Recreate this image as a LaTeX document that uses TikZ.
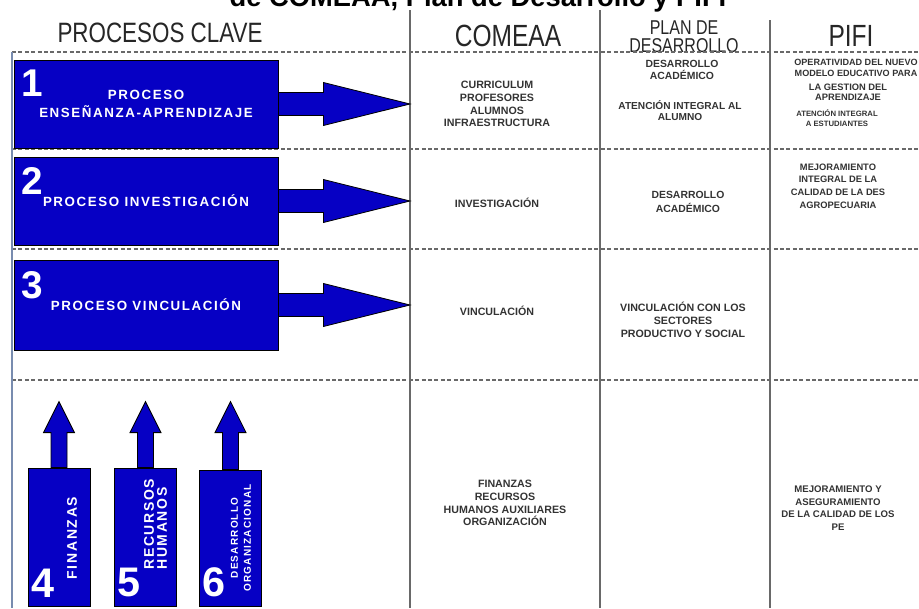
\documentclass[tikz,border=0pt]{standalone}
\usepackage{fontspec}
\setmainfont{Liberation Sans}
\newfontfamily\angosta[FakeStretch=0.8]{Liberation Sans}
\newfontfamily\espaciada[LetterSpace=12]{Liberation Sans}
\usetikzlibrary{calc,positioning}
\definecolor{azulproc}{RGB}{6,0,196}
\definecolor{lineagris}{RGB}{105,105,105}
\definecolor{bordeazul}{RGB}{120,140,175}

\begin{document}
\begin{tikzpicture}[x=0.75pt,y=-0.75pt,
  proc/.style={draw=black, line width=0.6pt, fill=azulproc, inner sep=0pt,
               text=white, align=center,
               font=\espaciada\fontsize{10}{13.5}\selectfont\bfseries},
  flecha/.style={draw=black, line width=0.6pt, fill=azulproc},
  num/.style={text=white, inner sep=0pt, font=\fontsize{29}{29}\selectfont\bfseries},
  numb/.style={num, font=\fontsize{31}{31}\selectfont\bfseries},
  rot/.style={rotate=90, text=white, inner sep=0pt, align=left},
  cab/.style={inner sep=0pt, text=black!85, font=\angosta\fontsize{21}{21}\selectfont},
  col/.style={inner sep=0pt, align=center, text=black!80,
              font=\fontsize{8}{9.5}\selectfont\bfseries},
  pifi/.style={col, font=\fontsize{7}{9.5}\selectfont\bfseries},
  punteada/.style={draw=lineagris, line width=1pt, dash pattern=on 3pt off 1.8pt},
  columna/.style={draw=lineagris, line width=1.2pt}]

  \useasboundingbox (0,0) rectangle (919,608);
  \clip (0,0) rectangle (919,608);

  % Title (cut off at the top)
  \node[anchor=base, inner sep=0pt, font=\fontsize{20.5}{22}\selectfont\bfseries]
    (tit) at (478,6) {de COMEAA, Plan de Desarrollo y PIFI};

  % Headers
  \node[cab] (hproc) at (160,33) {PROCESOS CLAVE};
  \node[cab, font=\angosta\fontsize{23}{23}\selectfont] (hcom) at (508,36) {COMEAA};
  \node[cab, align=center, font=\angosta\fontsize{15}{13.5}\selectfont]
    (hplan) at (684,37) {PLAN DE\\DESARROLLO};
  \node[cab, font=\angosta\fontsize{23}{23}\selectfont] (hpifi) at (851,36) {PIFI};

  % Grid
  \coordinate (c1a) at (410,10);  \coordinate (c1b) at (410,608);
  \coordinate (c2a) at (600,10);  \coordinate (c2b) at (600,608);
  \coordinate (c3a) at (770,20);  \coordinate (c3b) at (770,608);
  \draw[columna] (c1a) -- (c1b);
  \draw[columna] (c2a) -- (c2b);
  \draw[columna] (c3a) -- (c3b);
  \draw[punteada] (12,52) -- (919,52);
  \draw[punteada] (12,149) -- (919,149);
  \draw[punteada] (12,249) -- (919,249);
  \draw[punteada] (12,380) -- (919,380);
  \draw[draw=bordeazul, line width=0.8pt] (12,52) -- (12,608);

  % Key processes 1-3
  \node[proc, minimum width=198pt, minimum height=66pt] (b1) at (146,104)
    {PROCESO\\ENSEÑANZA-APRENDIZAJE};
  \node[proc, minimum width=198pt, minimum height=66pt] (b2) at (146,201)
    {PROCESO INVESTIGACIÓN};
  \node[proc, minimum width=198pt, minimum height=67.5pt] (b3) at (146,305)
    {PROCESO VINCULACIÓN};
  \node[num, anchor=north west] (n1) at ($(b1.north west)+(8,10)$) {1};
  \node[num, anchor=north west] (n2) at ($(b2.north west)+(8,11)$) {2};
  \node[num, anchor=north west] (n3) at ($(b3.north west)+(8,12)$) {3};

  \coordinate (t1) at (b1.east -| c1a);
  \coordinate (t2) at (b2.east -| c1a);
  \coordinate (t3) at (b3.east -| c1a);
  \draw[flecha] ($(b1.east)+(0,-11.5)$) -- ++(45,0) -- ++(0,-10) -- (t1)
    -- ($(b1.east)+(45,21.5)$) -- ++(0,-10) -- ($(b1.east)+(0,11.5)$) -- cycle;
  \draw[flecha] ($(b2.east)+(0,-11.5)$) -- ++(45,0) -- ++(0,-10) -- (t2)
    -- ($(b2.east)+(45,21.5)$) -- ++(0,-10) -- ($(b2.east)+(0,11.5)$) -- cycle;
  \draw[flecha] ($(b3.east)+(0,-11.5)$) -- ++(45,0) -- ++(0,-10) -- (t3)
    -- ($(b3.east)+(45,21.5)$) -- ++(0,-10) -- ($(b3.east)+(0,11.5)$) -- cycle;

  % Support processes 4-6
  \node[proc, minimum width=46.5pt, minimum height=103.5pt] (b4) at (59,537) {};
  \node[proc, minimum width=47pt, minimum height=103.5pt] (b5) at (145.5,537) {};
  \node[proc, minimum width=47pt, minimum height=102pt] (b6) at (230.5,538) {};

  \coordinate (p4) at ($(b4.north)+(0,-66)$);
  \coordinate (p5) at ($(b5.north)+(0,-66)$);
  \coordinate (p6) at ($(b6.north)+(0,-68)$);
  \draw[flecha] ($(b4.north)+(-8,0)$) -- ++(0,-35) -- ++(-7.5,0) -- (p4)
    -- ($(b4.north)+(15.5,-35)$) -- ++(-7.5,0) -- ($(b4.north)+(8,0)$) -- cycle;
  \draw[flecha] ($(b5.north)+(-8,0)$) -- ++(0,-35) -- ++(-7.5,0) -- (p5)
    -- ($(b5.north)+(15.5,-35)$) -- ++(-7.5,0) -- ($(b5.north)+(8,0)$) -- cycle;
  \draw[flecha] ($(b6.north)+(-8,0)$) -- ++(0,-37) -- ++(-7.5,0) -- (p6)
    -- ($(b6.north)+(15.5,-37)$) -- ++(-7.5,0) -- ($(b6.north)+(8,0)$) -- cycle;

  \node[numb, anchor=south west] (n4) at ($(b4.south west)+(4,-9)$) {4};
  \node[numb, anchor=south west] (n5) at ($(b5.south west)+(3,-9)$) {5};
  \node[numb, anchor=south west] (n6) at ($(b6.south west)+(3,-9)$) {6};

  \node[rot, font=\espaciada\fontsize{10.5}{10}\selectfont\bfseries]
    (r4) at ($(b4.center)+(13,1)$) {FINANZAS};
  \node[rot, anchor=west, font=\espaciada\fontsize{10.5}{9.75}\selectfont\bfseries]
    (r5) at (155.5,570) {RECURSOS\\HUMANOS};
  \node[rot, align=center, font=\espaciada\fontsize{7.5}{9.75}\selectfont\bfseries]
    (r6) at (241,538) {DESARROLLO\\ORGANIZACIONAL};

  % COMEAA column
  \node[col] (com1) at (497,104) {CURRICULUM\\PROFESORES\\ALUMNOS\\INFRAESTRUCTURA};
  \node[col] (com2) at (497,203) {INVESTIGACIÓN};
  \node[col] (com3) at (497,311) {VINCULACIÓN};
  \node[col] (com4) at (505,503) {FINANZAS\\RECURSOS\\HUMANOS AUXILIARES\\ORGANIZACIÓN};

  % Plan de desarrollo column
  \node[col, font=\fontsize{7.8}{9}\selectfont\bfseries] (plan1a) at (682,70) {DESARROLLO\\ACADÉMICO};
  \node[col, font=\fontsize{7.6}{8.3}\selectfont\bfseries] (plan1b) at (680,110.5) {ATENCIÓN INTEGRAL AL\\ALUMNO};
  \node[col, font=\fontsize{7.8}{10.5}\selectfont\bfseries] (plan2) at (688,202) {DESARROLLO\\ACADÉMICO};
  \node[col, font=\fontsize{8}{9.75}\selectfont\bfseries] (plan3) at (683,320) {VINCULACIÓN CON LOS\\SECTORES\\PRODUCTIVO Y SOCIAL};

  % PIFI column
  \node[pifi, font=\fontsize{6.8}{8.3}\selectfont\bfseries] (pifi1a) at (856,67.5) {OPERATIVIDAD DEL NUEVO\\MODELO EDUCATIVO PARA};
  \node[pifi, font=\fontsize{7}{7.5}\selectfont\bfseries] (pifi1b) at (848,92) {LA GESTION DEL\\APRENDIZAJE};
  \node[pifi, font=\fontsize{5.8}{7.5}\selectfont\bfseries] (pifi1c) at (837,118) {ATENCIÓN INTEGRAL\\A ESTUDIANTES};
  \node[pifi] (pifi2) at (838,186) {MEJORAMIENTO\\INTEGRAL DE LA\\CALIDAD DE LA DES\\AGROPECUARIA};
  \node[pifi, font=\fontsize{7.2}{9.5}\selectfont\bfseries] (pifi4) at (838,508) {MEJORAMIENTO Y\\ASEGURAMIENTO\\DE LA CALIDAD DE LOS\\PE};
\end{tikzpicture}
\end{document}
